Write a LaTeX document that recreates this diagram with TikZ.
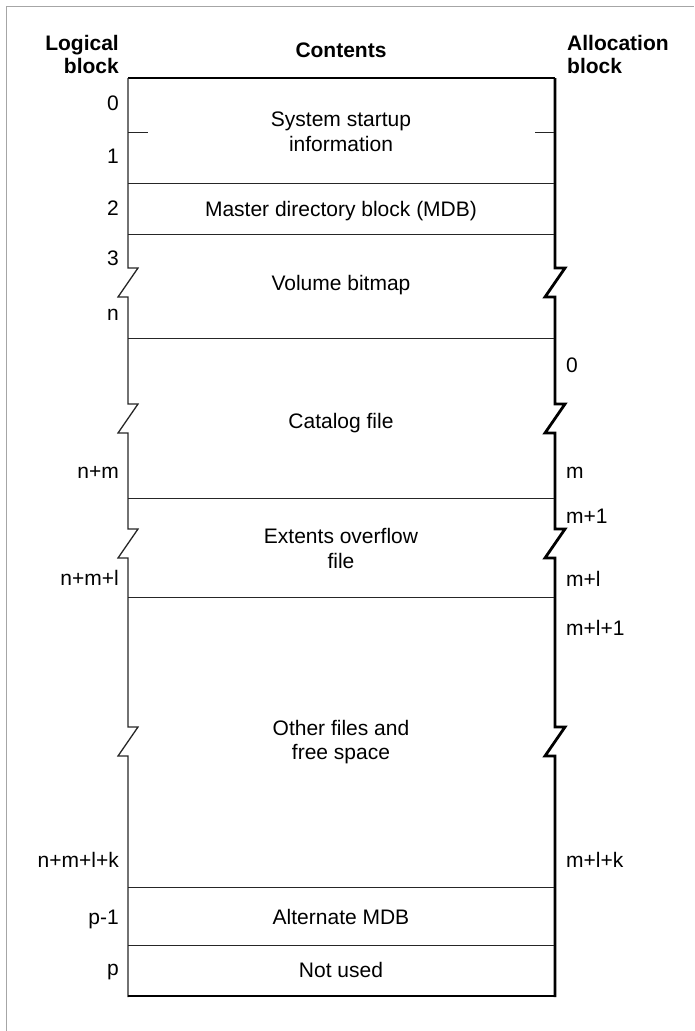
\documentclass[tikz,border=0pt]{standalone}
\usepackage{fontspec}
\setmainfont{Liberation Sans}
\begin{document}
\begin{tikzpicture}[x=1pt,y=-1pt,
  txt/.style={inner sep=0pt,font=\fontsize{21}{25}\selectfont},
  hdr/.style={inner sep=0pt,font=\fontsize{21}{23}\selectfont\bfseries},
  lbl/.style={txt,anchor=base east},
  rlbl/.style={txt,anchor=base west},
  ctr/.style={txt,anchor=base,align=center},
  divider/.style={line width=1pt,black!85},
  leftedge/.style={line width=1.3pt,black!85},
  rightedge/.style={line width=2.8pt,black},
  frame/.style={line width=1pt,black!35}]
\useasboundingbox (0,0) rectangle (694,1031);
% outer frame (top and left)
\draw[frame] (6,1031) -- (6,6) -- (694,6);
% headers
\node[hdr,anchor=base east] (hlog1) at (119,50) {Logical};
\node[hdr,anchor=base east] (hlog2) at (119,73) {block};
\node[hdr,anchor=base] (hcont) at (341,57) {Contents};
\node[hdr,anchor=base west] (halloc1) at (567,50) {Allocation};
\node[hdr,anchor=base west] (halloc2) at (567,73) {block};
% box top
\draw[line width=1.5pt] (128,78) -- (555,78);
% left edge with breaks
\draw[leftedge] (128,78) -- (128,268) -- (138,268) -- (118,297) -- (128,297)
  -- (128,404) -- (138,404) -- (118,433) -- (128,433)
  -- (128,529) -- (138,529) -- (118,558) -- (128,558)
  -- (128,727) -- (138,727) -- (118,756) -- (128,756)
  -- (128,997);
% right edge with breaks
\draw[rightedge] (555,78) -- (555,268) -- (565,268) -- (545,297) -- (555,297)
  -- (555,404) -- (565,404) -- (545,433) -- (555,433)
  -- (555,529) -- (565,529) -- (545,558) -- (555,558)
  -- (555,727) -- (565,727) -- (545,756) -- (555,756)
  -- (555,997);
% bottom
\draw[line width=2.8pt] (128,996) -- (556.4,996);
% ticks
\draw[divider] (128,132) -- (148,132);
\draw[divider] (535,132) -- (554,132);
% dividers
\foreach \yy in {183,234,338,498,597,887,945}
  \draw[divider] (128,\yy) -- (554,\yy);
% contents
\node[ctr] (c1a) at (341,126) {System startup};
\node[ctr] (c1b) at (341,151) {information};
\node[ctr] (c2) at (341,216) {Master directory block (MDB)};
\node[ctr] (c3) at (341,290) {Volume bitmap};
\node[ctr] (c4) at (341,428) {Catalog file};
\node[ctr] (c5a) at (341,543) {Extents overflow};
\node[ctr] (c5b) at (341,568) {file};
\node[ctr] (c6a) at (341,735) {Other files and};
\node[ctr] (c6b) at (341,759) {free space};
\node[ctr] (c7) at (341,924) {Alternate MDB};
\node[ctr] (c8) at (341,977) {Not used};
% logical block labels
\node[lbl] (l0) at (119,110) {0};
\node[lbl] (l1) at (119,163) {1};
\node[lbl] (l2) at (119,215) {2};
\node[lbl] (l3) at (119,265) {3};
\node[lbl] (ln) at (119,320) {n};
\node[lbl] (lnm) at (119,478) {n+m};
\node[lbl] (lnml) at (119,585) {n+m+l};
\node[lbl] (lnmlk) at (119,867) {n+m+l+k};
\node[lbl] (lp1) at (119,924) {p-1};
\node[lbl] (lp) at (119,975) {p};
% allocation block labels
\node[rlbl] (r0) at (566,372) {0};
\node[rlbl] (rm) at (566,478) {m};
\node[rlbl] (rm1) at (566,523) {m+1};
\node[rlbl] (rml) at (566,586) {m+l};
\node[rlbl] (rml1) at (566,635) {m+l+1};
\node[rlbl] (rmlk) at (566,867) {m+l+k};
\end{tikzpicture}
\end{document}
